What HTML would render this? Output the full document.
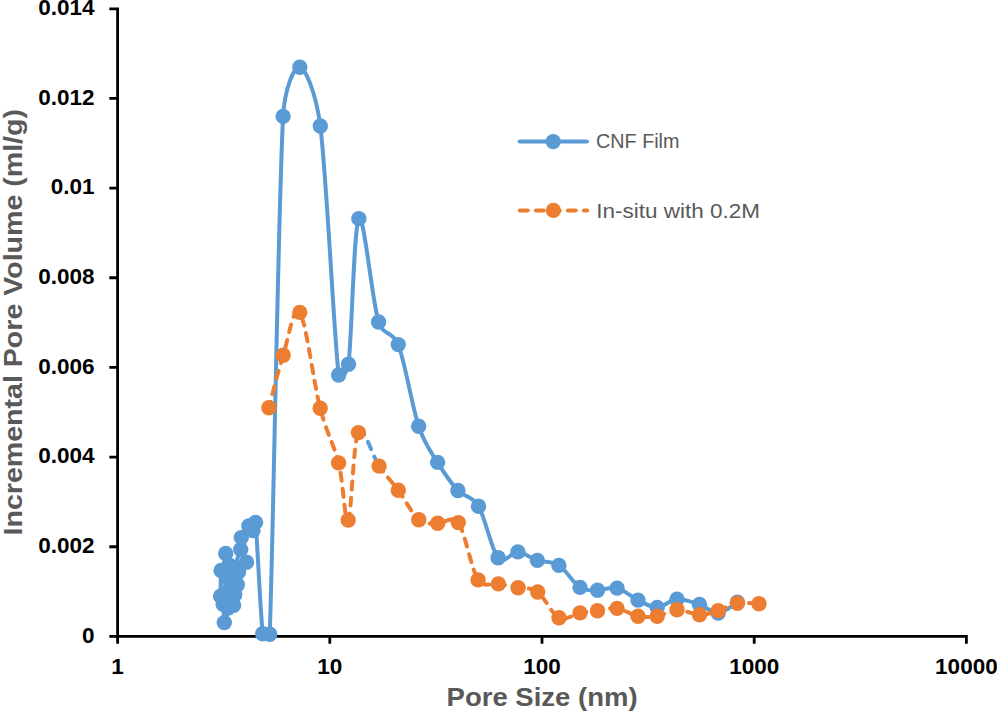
<!DOCTYPE html>
<html><head><meta charset="utf-8"><style>
html,body{margin:0;padding:0;background:#fff;}
body{width:997px;height:713px;overflow:hidden;}
svg{display:block;}
text{font-family:"Liberation Sans",sans-serif;}
</style></head><body>
<svg width="997" height="713" viewBox="0 0 997 713">
<rect width="997" height="713" fill="#fff"/>
<g font-weight="bold" font-size="22.5" fill="#000"><text x="94.6" y="642.7" text-anchor="end">0</text><text x="94.6" y="553.04" text-anchor="end">0.002</text><text x="94.6" y="463.38" text-anchor="end">0.004</text><text x="94.6" y="373.72" text-anchor="end">0.006</text><text x="94.6" y="284.06" text-anchor="end">0.008</text><text x="94.6" y="194.4" text-anchor="end">0.01</text><text x="94.6" y="104.74" text-anchor="end">0.012</text><text x="94.6" y="15.08" text-anchor="end">0.014</text><text x="117.6" y="674.4" text-anchor="middle">1</text><text x="329.8" y="674.4" text-anchor="middle">10</text><text x="542" y="674.4" text-anchor="middle">100</text><text x="754.2" y="674.4" text-anchor="middle">1000</text><text x="966.4" y="674.4" text-anchor="middle">10000</text></g>
<text font-weight="bold" font-size="25.5" fill="#595959" x="446.6" y="706.4" textLength="191" lengthAdjust="spacingAndGlyphs">Pore Size (nm)</text>
<text font-weight="bold" font-size="26.5" fill="#595959" transform="translate(22.4,535.5) rotate(-90)" textLength="426.5" lengthAdjust="spacingAndGlyphs">Incremental Pore Volume (ml/g)</text>
<path d="M110.7,636.4 H117.6 M110.7,546.74 H117.6 M110.7,457.08 H117.6 M110.7,367.42 H117.6 M110.7,277.76 H117.6 M110.7,188.1 H117.6 M110.7,98.44 H117.6 M110.7,8.78 H117.6 M117.6,636.4 V642.4 M329.8,636.4 V642.4 M542,636.4 V642.4 M754.2,636.4 V642.4 M966.4,636.4 V642.4 M117.6,9 V636.4 M117.6,636.4 H966.4" stroke="#000" stroke-width="2.8" fill="none" stroke-linecap="square"/>
<path d="M221.1,570.5 C221.02,574.8 220.25,590.68 220.6,596.3 C220.86,600.45 222.62,600.08 223.2,604.2 C223.82,608.58 223.5,621.97 224.3,622.6 C225.1,623.23 227.85,615.53 228,608 C228.23,596.48 225.7,558.5 225.7,553.5 C225.7,548.5 227.53,571.92 228,578 C228.46,583.99 228.33,592.17 228.5,590 C228.67,587.83 228.15,562.45 229,565 C229.85,567.55 232.65,600.35 233.6,605.3 C234.55,610.25 234.08,598.13 234.7,594.7 C235.32,591.27 236.67,588.48 237.3,584.7 C237.93,580.92 236.97,575.73 238.5,572 C240.03,568.27 247,562.97 246.5,562.3 C246,561.63 237.75,566.72 235.5,568 C234.11,568.79 232.56,571.54 233,570 C233.87,566.93 239.32,555 240.7,549.6 C242.08,544.2 239.95,541.53 241.3,537.6 C242.65,533.67 246.85,527.18 248.8,526 C250.75,524.82 251.87,531.1 253,530.5 C254.13,529.9 255.2,518.17 255.6,522.4 C257.23,539.6 260.45,615.07 262.8,633.7 C263.23,637.13 269.56,637.66 269.7,634.2 C273.08,547.98 278.08,210.88 283.1,116.4 C284.47,90.51 293.6,65.7 299.8,67.3 C306,68.9 316.41,95.16 320.3,126 C326.77,177.28 333.95,335.3 338.65,375 C339.51,382.26 347.56,371.45 348.5,364.2 C351.87,338.14 353.83,225.68 358.85,218.65 C363.87,211.62 372.03,301.01 378.6,322 C383.08,336.31 392.92,330.61 398.3,344.6 C404.98,361.97 412.1,406.57 418.65,426.2 C425.12,445.58 431.06,451.68 437.6,462.4 C444.14,473.12 451.08,483.2 457.9,490.5 C464.72,497.8 471.86,495.08 478.5,506.2 C485.2,517.42 491.53,550.18 498.1,557.8 C504.67,565.42 511.35,551.47 517.9,551.9 C524.45,552.33 530.57,558.15 537.4,560.4 C544.23,562.65 551.8,560.9 558.9,565.4 C566,569.9 573.57,583.27 580,587.4 C586.43,591.53 591.32,590.08 597.5,590.2 C603.68,590.32 610.35,586.45 617.1,588.1 C623.85,589.75 631.32,596.88 638,600.1 C644.68,603.32 650.7,607.53 657.2,607.4 C663.7,607.27 669.95,599.78 677,599.3 C684.05,598.82 692.63,602.22 699.5,604.5 C706.37,606.78 711.88,613.37 718.2,613 C724.52,612.63 734.2,604.08 737.4,602.3" stroke="#5B9BD5" stroke-width="4" fill="none" stroke-linejoin="round"/>
<g fill="#5B9BD5"><circle cx="221.1" cy="570.5" r="7.7"/><circle cx="220.6" cy="596.3" r="7.7"/><circle cx="223.2" cy="604.2" r="7.7"/><circle cx="224.3" cy="622.6" r="7.7"/><circle cx="228" cy="608" r="7.7"/><circle cx="225.7" cy="553.5" r="7.7"/><circle cx="228" cy="578" r="7.7"/><circle cx="228.5" cy="590" r="7.7"/><circle cx="229" cy="565" r="7.7"/><circle cx="233.6" cy="605.3" r="7.7"/><circle cx="234.7" cy="594.7" r="7.7"/><circle cx="237.3" cy="584.7" r="7.7"/><circle cx="238.5" cy="572" r="7.7"/><circle cx="246.5" cy="562.3" r="7.7"/><circle cx="235.5" cy="568" r="7.7"/><circle cx="233" cy="570" r="7.7"/><circle cx="240.7" cy="549.6" r="7.7"/><circle cx="241.3" cy="537.6" r="7.7"/><circle cx="248.8" cy="526" r="7.7"/><circle cx="253" cy="530.5" r="7.7"/><circle cx="255.6" cy="522.4" r="7.7"/><circle cx="262.8" cy="633.7" r="7.7"/><circle cx="269.7" cy="634.2" r="7.7"/><circle cx="283.1" cy="116.4" r="7.7"/><circle cx="299.8" cy="67.3" r="7.7"/><circle cx="320.3" cy="126" r="7.7"/><circle cx="338.65" cy="375" r="7.7"/><circle cx="348.5" cy="364.2" r="7.7"/><circle cx="358.85" cy="218.65" r="7.7"/><circle cx="378.6" cy="322" r="7.7"/><circle cx="398.3" cy="344.6" r="7.7"/><circle cx="418.65" cy="426.2" r="7.7"/><circle cx="437.6" cy="462.4" r="7.7"/><circle cx="457.9" cy="490.5" r="7.7"/><circle cx="478.5" cy="506.2" r="7.7"/><circle cx="498.1" cy="557.8" r="7.7"/><circle cx="517.9" cy="551.9" r="7.7"/><circle cx="537.4" cy="560.4" r="7.7"/><circle cx="558.9" cy="565.4" r="7.7"/><circle cx="580" cy="587.4" r="7.7"/><circle cx="597.5" cy="590.2" r="7.7"/><circle cx="617.1" cy="588.1" r="7.7"/><circle cx="638" cy="600.1" r="7.7"/><circle cx="657.2" cy="607.4" r="7.7"/><circle cx="677" cy="599.3" r="7.7"/><circle cx="699.5" cy="604.5" r="7.7"/><circle cx="718.2" cy="613" r="7.7"/><circle cx="737.4" cy="602.3" r="7.7"/></g>
<g fill="none" stroke-width="4" stroke-dasharray="8 8" stroke-linecap="round">
<path d="M268.9,407.8 C271.28,399.03 278.05,371.1 283.2,355.2 C288.35,339.3 293.63,303.55 299.8,312.4 C305.97,321.25 313.73,383.22 320.2,408.3 C326.67,433.38 333.93,444.27 338.6,462.9 C343.27,481.53 344.9,525.15 348.2,520.1 C351.5,515.05 353.25,441.6 358.4,432.6" stroke="#ED7D31" stroke-dashoffset="1.8"/>
<path d="M358.4,432.6 C363.55,423.6 372.45,456.48 379.1,466.1" stroke="#5B9BD5"/>
<path d="M379.1,466.1 C385.75,475.72 391.68,481.37 398.3,490.3 C404.92,499.23 412.23,514.2 418.8,519.7 C425.37,525.2 431.12,522.82 437.7,523.3 C444.28,523.78 452.31,514.21 458.3,522.6 C465.03,532.03 471.42,569.68 478.1,579.9 C483.76,588.56 491.73,582.58 498.4,583.9 C505.07,585.22 511.55,586.45 518.1,587.8 C524.65,589.15 530.88,587 537.7,592 C544.52,597 551.95,614.32 559,617.8 C566.05,621.28 573.58,614.07 580,612.9 C586.42,611.73 591.32,611.55 597.5,610.8 C603.68,610.05 610.35,607.5 617.1,608.4 C623.85,609.3 631.32,614.9 638,616.2 C644.68,617.5 650.7,617.27 657.2,616.2 C663.7,615.13 669.95,610.05 677,609.8 C684.05,609.55 692.63,614.55 699.5,614.7 C706.37,614.85 711.88,612.6 718.2,610.7 C724.52,608.8 730.6,604.47 737.4,603.3 C744.2,602.13 755.4,603.63 759,603.7" stroke="#ED7D31" stroke-dashoffset="1.5"/>
</g>
<g fill="#ED7D31"><circle cx="268.9" cy="407.8" r="7.7"/><circle cx="283.2" cy="355.2" r="7.7"/><circle cx="299.8" cy="312.4" r="7.7"/><circle cx="320.2" cy="408.3" r="7.7"/><circle cx="338.6" cy="462.9" r="7.7"/><circle cx="348.2" cy="520.1" r="7.7"/><circle cx="358.4" cy="432.6" r="7.7"/><circle cx="379.1" cy="466.1" r="7.7"/><circle cx="398.3" cy="490.3" r="7.7"/><circle cx="418.8" cy="519.7" r="7.7"/><circle cx="437.7" cy="523.3" r="7.7"/><circle cx="458.3" cy="522.6" r="7.7"/><circle cx="478.1" cy="579.9" r="7.7"/><circle cx="498.4" cy="583.9" r="7.7"/><circle cx="518.1" cy="587.8" r="7.7"/><circle cx="537.7" cy="592" r="7.7"/><circle cx="559" cy="617.8" r="7.7"/><circle cx="580" cy="612.9" r="7.7"/><circle cx="597.5" cy="610.8" r="7.7"/><circle cx="617.1" cy="608.4" r="7.7"/><circle cx="638" cy="616.2" r="7.7"/><circle cx="657.2" cy="616.2" r="7.7"/><circle cx="677" cy="609.8" r="7.7"/><circle cx="699.5" cy="614.7" r="7.7"/><circle cx="718.2" cy="610.7" r="7.7"/><circle cx="737.4" cy="603.3" r="7.7"/><circle cx="759" cy="603.7" r="7.7"/></g>
<path d="M519.6,141.6 H586.9" stroke="#5B9BD5" stroke-width="4" stroke-linecap="round"/>
<circle cx="553.2" cy="141.6" r="7.7" fill="#5B9BD5"/>
<path d="M519.8,210.4 H587.2" stroke="#ED7D31" stroke-width="4" stroke-linecap="round" stroke-dasharray="7.95 8.05"/>
<circle cx="553.4" cy="210.4" r="7.7" fill="#ED7D31"/>
<g font-size="21" fill="#595959">
<text x="596" y="148" textLength="83.5" lengthAdjust="spacingAndGlyphs">CNF Film</text>
<text x="596.2" y="217.5" textLength="163.8" lengthAdjust="spacingAndGlyphs">In-situ with 0.2M</text>
</g>
</svg>
</body></html>
